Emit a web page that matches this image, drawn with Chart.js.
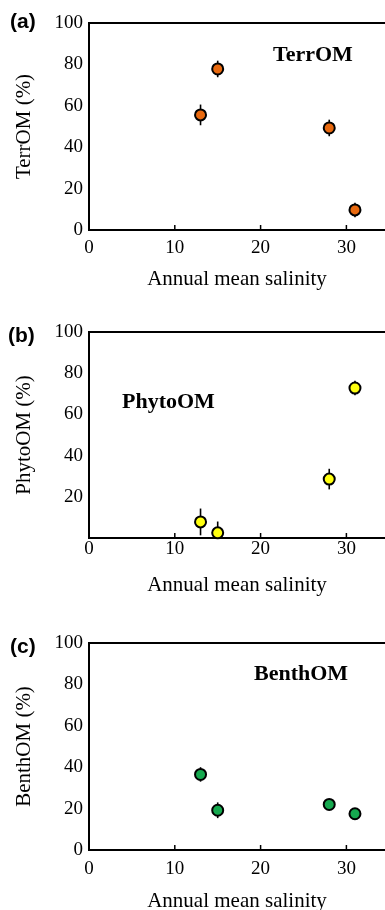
<!DOCTYPE html>
<html>
<head>
<meta charset="utf-8">
<script src="https://cdn.jsdelivr.net/npm/chart.js@4.4.1/dist/chart.umd.min.js"></script>
<style>
  html, body { margin: 0; padding: 0; background: #fff; }
  body { width: 385px; height: 910px; position: relative; overflow: hidden; }
  canvas { position: absolute; left: 0; }
  .tag { position: absolute; font: bold 21px "Liberation Sans", Arial, sans-serif; line-height: 21px; color: #000; }
  .name { position: absolute; font: bold 22px "Liberation Serif", "Times New Roman", serif; line-height: 22px; color: #000; }
</style>
</head>
<body>
<canvas id="cA" width="385" height="300" style="top:0px"></canvas>
<canvas id="cB" width="385" height="300" style="top:300px"></canvas>
<canvas id="cC" width="385" height="320" style="top:600px"></canvas>
<div class="tag" style="left:10px;top:10px">(a)</div>
<div class="tag" style="left:8px;top:324px">(b)</div>
<div class="tag" style="left:10px;top:635px">(c)</div>
<div class="name" style="left:273px;top:43px">TerrOM</div>
<div class="name" style="left:122px;top:390px">PhytoOM</div>
<div class="name" style="left:254px;top:662px">BenthOM</div>
<script>
// salinity of the four sites
const salinity = [13, 15, 28, 31];
// source contributions (%) and their error bars
const terrOM = [55.6, 77.8, 49.3, 9.7];
const terrErr = [5, 4, 4, 3.5];
const phytoOM = [7.8, 2.5, 28.6, 72.8];
const phytoErr = [6.5, 5.5, 5, 3.5];
const benthOM = [36.5, 19.2, 22, 17.5];
const benthErr = [3.5, 3.8, 2, 2];
const xTicks = [0, 10, 20, 30];
const yTicks = [0, 20, 40, 60, 80, 100];

const serif = '"Liberation Serif", "Times New Roman", serif';

function makePanel(id, yVals, errs, color, yTitle, o) {
  const pts = salinity.map((s, i) => ({x: s, y: yVals[i]}));
  const extras = {
    id: 'extras' + id,
    beforeDatasetsDraw(chart) {
      const {ctx, chartArea, scales: {x, y}} = chart;
      ctx.save();
      ctx.strokeStyle = '#000';
      // error bars
      ctx.lineWidth = 1.6;
      pts.forEach((p, i) => {
        const px = x.getPixelForValue(p.x);
        ctx.beginPath();
        ctx.moveTo(px, y.getPixelForValue(Math.max(0, p.y - errs[i])));
        ctx.lineTo(px, y.getPixelForValue(p.y + errs[i]));
        ctx.stroke();
      });
      // inward tick marks on x axis
      ctx.lineWidth = 1.5;
      x.ticks.forEach(t => {
        if (t.value <= 0) return;
        const px = x.getPixelForValue(t.value);
        ctx.beginPath();
        ctx.moveTo(px, chartArea.bottom);
        ctx.lineTo(px, chartArea.bottom - 5);
        ctx.stroke();
      });
      // top frame line
      ctx.lineWidth = 2;
      ctx.beginPath();
      ctx.moveTo(chartArea.left - 1, chartArea.top);
      ctx.lineTo(chartArea.right, chartArea.top);
      ctx.stroke();
      ctx.restore();
    }
  };
  new Chart(document.getElementById(id), {
    type: 'scatter',
    data: {datasets: [{
      data: pts,
      backgroundColor: color,
      borderColor: '#000',
      borderWidth: 2,
      pointRadius: 5.5,
      pointHoverRadius: 5.5,
      clip: false
    }]},
    options: {
      responsive: false,
      animation: false,
      devicePixelRatio: 1,
      layout: {autoPadding: false, padding: {top: o.padTop, left: 0, right: 0, bottom: 0}},
      plugins: {legend: {display: false}, tooltip: {enabled: false}},
      scales: {
        x: {
          type: 'linear', min: 0, max: 34.5,
          grid: {display: false, drawTicks: false},
          border: {display: true, color: '#000', width: 2},
          ticks: {
            stepSize: 10, includeBounds: false, padding: o.tickPad,
            color: '#000', font: {family: serif, size: 19},
            callback: v => xTicks.includes(v) ? String(v) : ''
          },
          title: {display: true, text: 'Annual mean salinity', color: '#000',
                  font: {family: serif, size: 21}, padding: {top: 0, bottom: o.titlePad}},
          afterFit(s) { s.height = o.axisH; s.paddingLeft = 0; s.paddingRight = 0; }
        },
        y: {
          type: 'linear', min: 0, max: 100,
          grid: {display: false, drawTicks: false},
          border: {display: true, color: '#000', width: 2},
          ticks: {
            stepSize: 20, padding: 6,
            color: '#000', font: {family: serif, size: 19},
            callback: v => (yTicks.includes(v) && !(o.hideZero && v === 0)) ? String(v) : ''
          },
          title: {display: true, text: yTitle, color: '#000',
                  font: {family: serif, size: 21}, padding: {top: 12, bottom: 0}},
          afterFit(s) { s.width = 89; s.paddingTop = 0; s.paddingBottom = 0; }
        }
      }
    },
    plugins: [extras]
  });
}

makePanel('cA', terrOM, terrErr, '#E8690F', 'TerrOM (%)',
  {padTop: 23, axisH: 70, tickPad: 7, titlePad: 8});
makePanel('cB', phytoOM, phytoErr, '#FFFF10', 'PhytoOM (%)',
  {padTop: 32, axisH: 62, tickPad: 0, titlePad: 2, hideZero: true});
makePanel('cC', benthOM, benthErr, '#16A94F', 'BenthOM (%)',
  {padTop: 43, axisH: 70, tickPad: 8, titlePad: 6});
</script>
</body>
</html>
